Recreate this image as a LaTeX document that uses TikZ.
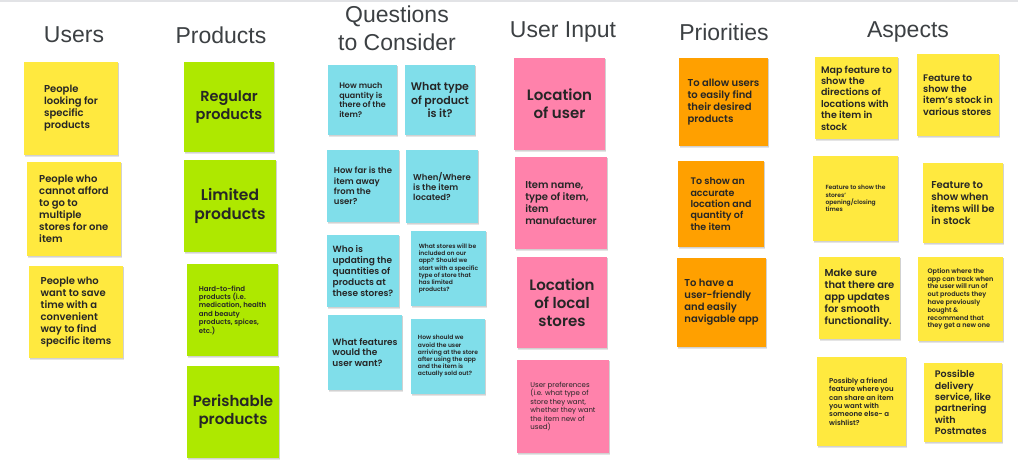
\documentclass[tikz,border=0pt]{standalone}
\usepackage{fontspec}
\setmainfont{Poppins}[BoldFont={Poppins SemiBold}]
\newfontfamily\titlefont{Liberation Sans}
\definecolor{ylw}{HTML}{FFE93F}
\definecolor{grn}{HTML}{AEE800}
\definecolor{cyn}{HTML}{80DEEA}
\definecolor{pnk}{HTML}{FF82AB}
\definecolor{org}{HTML}{FFA000}
\definecolor{ttl}{HTML}{3C4043}
\definecolor{edge}{HTML}{E2E3E6}
\newcommand{\fs}[1]{\fontsize{#1}{\dimexpr#1pt*6/5\relax}\selectfont}
\tikzset{
  heading/.style={font=\titlefont\fontsize{23}{28}\selectfont, text=ttl, align=center, inner sep=0pt},
  notebox/.style={inner sep=0pt, outer sep=0pt, text=black!85},
  shade1/.style={fill=black!10},
  shade2/.style={fill=black!18},
}
% #1 name, #2 x1, #3 y1, #4 x2, #5 y2, #6 colour, #7 size, #8 options, #9 text
\newcommand{\sticky}[9]{%
  \fill[shade1] (#2+1.2,#3+2.2) rectangle (#4+1.2,#5+2.2);
  \fill[shade2] (#2+0.5,#3+1.1) rectangle (#4+0.5,#5+1.1);
  \node[notebox, fill=#6, minimum width={(#4-#2)*1pt}, minimum height={(#5-#3)*1pt},
    font=\bfseries\fs{#7}, #8]
    (#1) at ({(#2+#4)/2},{(#3+#5)/2}) {#9};}
\begin{document}
\begin{tikzpicture}[x=1pt,y=-1pt]
\useasboundingbox (0,0) rectangle (1018,463);
\fill[white] (0,0) rectangle (1018,463);
\fill[edge] (0,0) rectangle (1018,2);
% headings
\node[heading] (hUsers) at (74,35) {Users};
\node[heading] (hProducts) at (221,35) {Products};
\node[heading] (hQuestions) at (397,28) {Questions\\to Consider};
\node[heading] (hInput) at (563,32) {User Input};
\node[heading] (hPriorities) at (724,32) {Priorities};
\node[heading] (hAspects) at (908,32) {Aspects};
% Users
\sticky{u1}{24}{62}{118}{155}{ylw}{10}{align=left}{People\\looking for\\specific\\products}
\sticky{u2}{27}{162}{121}{256}{ylw}{10}{align=left}{People who\\cannot afford\\to go to\\multiple\\stores for one\\item}
\sticky{u3}{29}{266}{123}{358}{ylw}{10}{align=left}{People who\\want to save\\time with a\\convenient\\way to find\\specific items}
% Products
\sticky{p1}{184}{62}{274}{152}{grn}{14.5}{align=center}{Regular\\products}
\sticky{p2}{184}{160}{276}{252}{grn}{15.5}{align=center}{Limited\\products}
\sticky{p3}{187}{264}{278}{356}{grn}{7}{align=left}{Hard-to-find\\products (i.e.\\medication, health\\and beauty\\products, spices,\\etc.)}
\sticky{p4}{187}{366}{279}{458}{grn}{15}{align=center}{Perishable\\products}
% Questions
\sticky{q1}{328}{65}{397}{135}{cyn}{8}{align=left}{How much\\quantity is\\there of the\\item?}
\sticky{q2}{405}{65}{475}{135}{cyn}{11}{align=center}{What type\\of product\\is it?}
\sticky{q3}{327}{150}{399}{222}{cyn}{8.5}{align=left}{How far is the\\item away\\from the\\user?}
\sticky{q4}{406}{150}{478}{223}{cyn}{8.5}{align=left}{When/Where\\is the item\\located?}
\sticky{q5}{327}{235}{399}{307}{cyn}{9}{align=left}{Who is\\updating the\\quantities of\\products at\\these stores?}
\sticky{q6}{411}{231}{486}{306}{cyn}{6}{align=left}{What stores will be\\included on our\\app? Should we\\start with a specific\\type of store that\\has limited\\products?}
\sticky{q7}{328}{315}{402}{390}{cyn}{9}{align=left}{What features\\would the\\user want?}
\sticky{q8}{411}{319}{485}{394}{cyn}{6}{align=left}{How should we\\avoid the user\\arriving at the store\\after using the app\\and the item is\\actually sold out?}
% User input
\sticky{i1}{514}{58}{605}{150}{pnk}{15}{align=center}{Location\\of user}
\sticky{i2}{515}{157}{607}{249}{pnk}{10}{align=left}{Item name,\\type of item,\\item\\manufacturer}
\sticky{i3}{517}{257}{607}{348}{pnk}{15}{align=center}{Location\\of local\\stores}
\sticky{i4}{517}{360}{609}{453}{pnk}{7}{align=left, font=\mdseries\fs{7}}{User preferences\\(i.e. what type of\\store they want,\\whether they want\\the item new of\\used)}
% Priorities
\sticky{r1}{679}{58}{768}{146}{org}{10}{align=left}{To allow users\\to easily find\\their desired\\products}
\sticky{r2}{678}{161}{764}{247}{org}{9.5}{align=left}{To show an\\accurate\\location and\\quantity of\\the item}
\sticky{r3}{677}{258}{766}{347}{org}{10}{align=left}{To have a\\user-friendly\\and easily\\navigable app}
% Aspects
\sticky{a1}{815}{57}{898}{139}{ylw}{9.5}{align=left}{Map feature to\\show the\\directions of\\locations with\\the item in\\stock}
\sticky{a2}{917}{54}{999}{136}{ylw}{9.5}{align=left}{Feature to\\show the\\item's stock in\\various stores}
\sticky{a3}{813}{156}{898}{241}{ylw}{6}{align=left}{Feature to show the\\stores'\\opening/closing\\times}
\sticky{a4}{923}{163}{1003}{243}{ylw}{10}{align=left}{Feature to\\show when\\items will be\\in stock}
\sticky{a5}{819}{257}{900}{339}{ylw}{10}{align=left}{Make sure\\that there are\\app updates\\for smooth\\functionality.}
\sticky{a6}{918}{257}{1003}{341}{ylw}{6.5}{align=left}{Option where the\\app can track when\\the user will run of\\out products they\\have previously\\bought \&\\recommend that\\they get a new one}
\sticky{a7}{817}{357}{906}{446}{ylw}{7}{align=left}{Possibly a friend\\feature where you\\can share an item\\you want with\\someone else- a\\wishlist?}
\sticky{a8}{924}{363}{1002}{442}{ylw}{9.5}{align=left}{Possible\\delivery\\service, like\\partnering\\with\\Postmates}
\end{tikzpicture}
\end{document}
